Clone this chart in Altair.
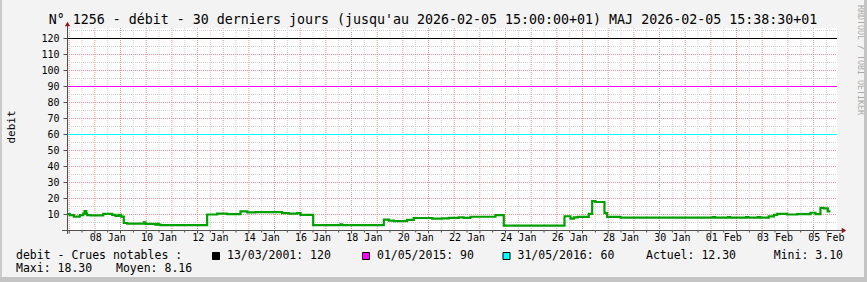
import altair as alt
import pandas as pd

FONT = "DejaVu Sans Mono"
TITLE = "N° 1256 - débit - 30 derniers jours (jusqu'au 2026-02-05 15:00:00+01) MAJ 2026-02-05 15:38:30+01"
Y_TITLE = "debit"
WATERMARK = "RRDTOOL / TOBI OETIKER"

# debit series (step values)
series_times = [
    "2026-01-06 22:25", "2026-01-07 00:35", "2026-01-07 04:20", "2026-01-07 09:55",
    "2026-01-07 13:05", "2026-01-07 14:20", "2026-01-07 16:00", "2026-01-07 16:50",
    "2026-01-07 19:55", "2026-01-08 07:50", "2026-01-08 16:12", "2026-01-08 19:18",
    "2026-01-08 22:24", "2026-01-09 00:38", "2026-01-09 03:03", "2026-01-09 06:14",
    "2026-01-09 21:45", "2026-01-09 23:20", "2026-01-10 08:41", "2026-01-10 10:18",
    "2026-01-10 11:40", "2026-01-10 13:22", "2026-01-12 09:00", "2026-01-12 18:22",
    "2026-01-13 03:44", "2026-01-13 16:10", "2026-01-13 22:26", "2026-01-14 06:11",
    "2026-01-15 07:10", "2026-01-15 13:20", "2026-01-15 21:11", "2026-01-16 00:17",
    "2026-01-16 12:09", "2026-01-17 13:41", "2026-01-17 15:16", "2026-01-19 06:11",
    "2026-01-19 10:51", "2026-01-19 15:31", "2026-01-20 04:02", "2026-01-20 10:12",
    "2026-01-21 03:24", "2026-01-21 12:45", "2026-01-21 18:55", "2026-01-22 04:16",
    "2026-01-22 08:57", "2026-01-22 15:13", "2026-01-23 14:35", "2026-01-23 22:21",
    "2026-01-26 07:08", "2026-01-26 12:44", "2026-01-26 15:49", "2026-01-26 19:33",
    "2026-01-27 05:50", "2026-01-27 09:01", "2026-01-27 12:06", "2026-01-27 20:31",
    "2026-01-27 23:02", "2026-01-28 11:28", "2026-02-01 01:54", "2026-02-01 04:00",
    "2026-02-01 15:55", "2026-02-01 18:00", "2026-02-02 09:00", "2026-02-02 11:00",
    "2026-02-02 19:56", "2026-02-02 22:00", "2026-02-03 06:09", "2026-02-03 10:50",
    "2026-02-03 14:00", "2026-02-03 23:21", "2026-02-04 08:42", "2026-02-04 21:08",
    "2026-02-05 01:48", "2026-02-05 06:28", "2026-02-05 09:33", "2026-02-05 13:20",
    "2026-02-05 15:50",
]
series_values = [
    10.2, 9.6, 8.7, 9.6,
    10.6, 12.1, 10.6, 9.6,
    9.4, 10.4, 9.8, 9.2,
    9.8, 8.7, 4.7, 4.3,
    5.1, 4.1, 3.7, 4.1,
    3.7, 3.3, 10.0, 10.6,
    10.2, 11.9, 11.3, 11.5,
    10.9, 10.5, 10.9, 9.8,
    3.4, 3.9, 3.3, 6.8,
    6.2, 5.8, 6.6, 7.8,
    7.4, 7.6, 7.9, 8.2,
    7.9, 8.6, 9.6, 3.1,
    8.9, 7.4, 8.2, 8.5,
    10.4, 18.3, 17.8, 10.8,
    8.5, 8.0, 8.4, 8.0,
    8.4, 8.0, 8.4, 8.0,
    8.4, 8.0, 8.8, 9.8,
    10.4, 10.0, 10.2, 11.1,
    10.2, 14.1, 13.8, 12.0,
    12.0,
]

threshold_values = [120, 90, 60]
threshold_colors = ["#000000", "#FF00FF", "#00FFFF"]
threshold_labels = ["13/03/2001: 120", "01/05/2015: 90", "31/05/2016: 60"]

y_tick_values = [10, 20, 30, 40, 50, 60, 70, 80, 90, 100, 110, 120]
x_label_days = [
    "2026-01-08", "2026-01-10", "2026-01-12", "2026-01-14", "2026-01-16",
    "2026-01-18", "2026-01-20", "2026-01-22", "2026-01-24", "2026-01-26",
    "2026-01-28", "2026-01-30", "2026-02-01", "2026-02-03", "2026-02-05",
]

legend_head = "debit - Crues notables :"
stat_actuel = "Actuel: 12.30"
stat_mini = "Mini: 3.10"
stat_maxi = "Maxi: 18.30"
stat_moyen = "Moyen: 8.16"

X_START = "2026-01-06 22:25"
X_END = "2026-02-05 22:25"


def ms(s):
    return int(pd.Timestamp(s).value // 10**6)


# layout (page pixels)
OX, OY = 67, 28
W, H = 770, 202
Y_MAX = H / 1.6

xscale = alt.Scale(type="utc", domain=[ms(X_START), ms(X_END)], range=[0.5, W + 0.5])
yscale = alt.Scale(domain=[0, Y_MAX], nice=False, zero=False, range=[H + 0.5, 0.5])

df = pd.DataFrame({"t": [ms(s) for s in series_times], "v": series_values})

midnights = [ms(d) for d in pd.date_range("2026-01-07", "2026-02-05", freq="D")]
noons = [ms(d) for d in pd.date_range("2026-01-07 12:00", "2026-02-05 12:00", freq="D")]
grid_v_major = pd.DataFrame({"t": midnights})
grid_v_minor = pd.DataFrame({"t": noons})
grid_h_major = pd.DataFrame({"v": y_tick_values})
grid_h_minor = pd.DataFrame({"v": [v + 5 for v in [0] + y_tick_values]})
x_labels = pd.DataFrame({"t": [ms(d + " 12:00") for d in x_label_days]})

one = pd.DataFrame({"a": [0]})


def X(px):
    return alt.value(px - OX)


def Y(py):
    return alt.value(py - OY)


XT = alt.X("t:T", scale=xscale, axis=None)
YV = alt.Y("v:Q", scale=yscale, axis=None)

vmin = alt.Chart(grid_v_minor).mark_rule(color="#D0D0D0", strokeDash=[1, 1], strokeWidth=1).encode(
    x=XT, y=alt.value(0), y2=alt.value(H))
vmaj = alt.Chart(grid_v_major).mark_rule(color="#F09090", strokeDash=[1, 1], strokeWidth=1).encode(
    x=XT, y=alt.value(0), y2=alt.value(H))
hmin = alt.Chart(grid_h_minor).mark_rule(color="#D0D0D0", strokeDash=[1, 1], strokeWidth=1).encode(
    y=YV, x=alt.value(0), x2=alt.value(W))
hmaj = alt.Chart(grid_h_major).mark_rule(color="#F09090", strokeDash=[1, 1], strokeWidth=1).encode(
    y=YV, x=alt.value(0), x2=alt.value(W))

thr_df = pd.DataFrame({"v": threshold_values, "c": threshold_colors})
thr = alt.Chart(thr_df).mark_rule(strokeWidth=1).encode(
    y=YV, x=alt.value(0), x2=alt.value(W),
    color=alt.Color("c:N", scale=None, legend=None))

line = alt.Chart(df).mark_line(interpolate="step-after", color="#00A000", strokeWidth=2.2).encode(
    x=XT, y=YV)

ticks_major = alt.Chart(grid_v_major).mark_rule(color="#505050", strokeWidth=1).encode(
    x=XT, y=alt.value(H + 0.5), y2=alt.value(H + 3.5))
ticks_minor = alt.Chart(grid_v_minor).mark_rule(color="#505050", strokeWidth=1).encode(
    x=XT, y=alt.value(H + 0.5), y2=alt.value(H + 2.5))
ticks_y = alt.Chart(grid_h_major).mark_rule(color="#505050", strokeWidth=1).encode(
    y=YV, x=alt.value(-3.5), x2=alt.value(0.5))

xlab = alt.Chart(x_labels).transform_calculate(
    lab="utcFormat(datum.t, '%d %b')"
).mark_text(font=FONT, fontSize=10, color="#000000", align="center", baseline="alphabetic").encode(
    x=XT, y=Y(240.5), text="lab:N")
ylab = alt.Chart(grid_h_major).mark_text(font=FONT, fontSize=10, color="#000000", align="right",
                                         baseline="middle", dx=0).encode(
    y=YV, x=alt.value(-7.5), text="v:Q")

yline = alt.Chart(one).mark_rule(color="#505050", strokeWidth=1).encode(
    x=alt.value(0.5), y=alt.value(-4), y2=alt.value(H + 4))
xline = alt.Chart(one).mark_rule(color="#505050", strokeWidth=1).encode(
    y=alt.value(H + 0.5), x=alt.value(-5), x2=alt.value(W + 5))
arrow_up = alt.Chart(one).mark_point(shape="triangle-up", filled=True, size=28, color="#8B1A1A", opacity=1).encode(
    x=alt.value(0.5), y=alt.value(-4))
arrow_right = alt.Chart(one).mark_point(shape="triangle-right", filled=True, size=28, color="#8B1A1A", opacity=1).encode(
    x=alt.value(W + 7), y=alt.value(H + 0.5))


def txt(s, x, y, size, align="left", angle=0, color="#000000", baseline="alphabetic"):
    return alt.Chart(pd.DataFrame({"s": [s]})).mark_text(
        align=align, baseline=baseline, angle=angle, font=FONT, fontSize=size, color=color
    ).encode(x=X(x), y=Y(y), text="s:N")


def square(x, color):
    return alt.Chart(one).mark_rect(color=color, stroke="#000000", strokeWidth=1).encode(
        x=X(x), x2=X(x + 7), y=Y(252.5), y2=Y(259.5))


texts = [
    txt(TITLE, 433, 24, 13.3, align="center"),
    txt(Y_TITLE, 14.5, 127, 11, align="center", angle=270),
    txt(WATERMARK, 858, 60, 8.3, align="center", angle=90, color="#A8A8A8"),
    txt(legend_head, 16, 258.5, 11.5),
    txt(threshold_labels[0], 227, 258.5, 11.5),
    txt(threshold_labels[1], 377, 258.5, 11.5),
    txt(threshold_labels[2], 517.5, 258.5, 11.5),
    txt(stat_actuel, 646, 258.5, 11.5),
    txt(stat_mini, 843, 258.5, 11.5, align="right"),
    txt(stat_maxi, 16, 272, 11.5),
    txt(stat_moyen, 116, 272, 11.5),
]
squares = [square(212.5, threshold_colors[0]), square(362.5, threshold_colors[1]),
           square(503, threshold_colors[2])]

frame = [
    alt.Chart(one).mark_rect(color="#CBCBCB").encode(x=X(0), x2=X(2), y=Y(0), y2=Y(282)),
    alt.Chart(one).mark_rect(color="#C4C4C4").encode(x=X(864), x2=X(867), y=Y(0), y2=Y(282)),
    alt.Chart(one).mark_rect(color="#C4C4C4").encode(x=X(0), x2=X(867), y=Y(277), y2=Y(282)),
]

chart = alt.layer(
    vmin, vmaj, hmin, hmaj, thr, line, ticks_major, ticks_minor, ticks_y, xlab, ylab,
    yline, xline, arrow_up, arrow_right, *texts, *squares, *frame
).properties(
    width=W, height=H,
    autosize=alt.AutoSizeParams(type="none"),
    padding={"left": OX, "top": OY, "right": 867 - OX - W, "bottom": 282 - OY - H},
    background="#F3F3F3",
).configure_view(fill="#FFFFFF", stroke=None)

chart.save("out.html", embed_options={"renderer": "svg", "actions": False})
